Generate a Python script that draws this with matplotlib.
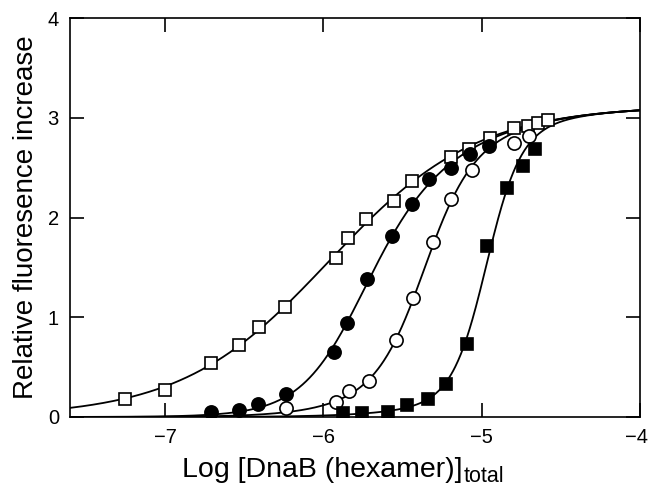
import numpy as np
import matplotlib
matplotlib.use("Agg")
import matplotlib.pyplot as plt
import matplotlib.transforms as mtransforms

plt.rcParams['font.family'] = ['Liberation Sans', 'DejaVu Sans']

# --- data ---
open_sq_x = [-7.253, -7.0, -6.708, -6.535, -6.408, -6.240, -5.923, -5.843, -5.729,
             -5.553, -5.441, -5.194, -5.078, -4.945, -4.793, -4.706, -4.643, -4.582]
open_sq_y = [0.18, 0.27, 0.54, 0.72, 0.90, 1.10, 1.59, 1.80, 1.99,
             2.17, 2.37, 2.61, 2.69, 2.80, 2.90, 2.92, 2.95, 2.98]

fill_ci_x = [-6.708, -6.535, -6.413, -6.233, -5.933, -5.853, -5.726, -5.564,
             -5.441, -5.331, -5.194, -5.072, -4.951]
fill_ci_y = [0.05, 0.07, 0.13, 0.23, 0.65, 0.94, 1.38, 1.82,
             2.14, 2.39, 2.50, 2.64, 2.72]

open_ci_x = [-6.233, -5.923, -5.838, -5.712, -5.539, -5.433, -5.310, -5.194,
             -5.063, -4.793, -4.702]
open_ci_y = [0.09, 0.15, 0.26, 0.36, 0.77, 1.19, 1.75, 2.19,
             2.48, 2.75, 2.82]

fill_sq_x = [-5.875, -5.754, -5.589, -5.472, -5.338, -5.226, -5.093, -4.968,
             -4.839, -4.740, -4.666]
fill_sq_y = [0.04, 0.04, 0.05, 0.12, 0.18, 0.33, 0.73, 1.71,
             2.30, 2.52, 2.69]

x_ticks = [-7, -6, -5, -4]
x_tick_labels = ['\u22127', '\u22126', '\u22125', '\u22124']
y_ticks = [0, 1, 2, 3, 4]
y_tick_labels = ['0', '1', '2', '3', '4']


def hill(xx, n, x0):
    t = 10 ** (n * (np.asarray(xx) - x0))
    return t / (1 + t)


def switch(xx, n, x0, c):
    u = np.asarray(xx) - x0
    t = c * 10 ** u + 10 ** (n * u)
    return t / (1 + t)


def fit_envelope(x, y):
    """Hill fit of the broad (open-square) curve; ymax solved in closed form."""
    x = np.asarray(x); y = np.asarray(y)
    ns = np.arange(0.5, 2.01, 0.01)
    x0s = np.arange(-7.0, -5.0, 0.005)
    N, X0 = np.meshgrid(ns, x0s, indexing='ij')
    f = hill(x[None, None, :], N[..., None], X0[..., None])
    ymax = (f * y).sum(-1) / (f * f).sum(-1)
    err = ((ymax[..., None] * f - y) ** 2).sum(-1)
    i, j = np.unravel_index(np.argmin(err), err.shape)
    return ns[i], x0s[j], ymax[i, j]


def fit_switch(x, y, env):
    """Fit a switch (non-cooperative + cooperative term) that multiplies the envelope."""
    x = np.asarray(x); y = np.asarray(y)
    e = env(x)
    w = 1.0 / (y + 0.6)
    ns = np.arange(1.0, 5.01, 0.05)
    x0s = np.arange(-6.5, -4.5, 0.01)
    cs = np.arange(0.0, 0.301, 0.015)
    N, X0, C = np.meshgrid(ns, x0s, cs, indexing='ij')
    f = switch(x[None, None, None, :], N[..., None], X0[..., None], C[..., None]) * e
    err = (w * (f - y) ** 2).sum(-1)
    i, j, k = np.unravel_index(np.argmin(err), err.shape)
    return ns[i], x0s[j], cs[k]


n0, x00, ym = fit_envelope(open_sq_x, open_sq_y)
envelope = lambda xx: ym * hill(xx, n0, x00)

fig = plt.figure(figsize=(6.5, 4.9), dpi=100)
ax = fig.add_axes([0.1077, 0.149, 0.877, 0.814])

xx = np.linspace(-7.6, -4.0, 800)
ax.plot(xx, envelope(xx), color='black', lw=1.3, zorder=2)
for sx, sy in [(fill_ci_x, fill_ci_y), (open_ci_x, open_ci_y), (fill_sq_x, fill_sq_y)]:
    p = fit_switch(sx, sy, envelope)
    ax.plot(xx, envelope(xx) * switch(xx, *p), color='black', lw=1.3, zorder=2)

series = [
    (open_sq_x, open_sq_y, 's', 'white'),
    (fill_ci_x, fill_ci_y, 'o', 'black'),
    (open_ci_x, open_ci_y, 'o', 'white'),
    (fill_sq_x, fill_sq_y, 's', 'black'),
]
for sx, sy, m, fc in series:
    ax.plot(sx, sy, linestyle='none', marker=m, markersize=9 if m == 's' else 9.5,
            markerfacecolor=fc, markeredgecolor='black', markeredgewidth=1.2, zorder=3)

ax.set_xlim(-7.6, -4.0)
ax.set_ylim(0, 4)
ax.set_xticks(x_ticks)
ax.set_xticklabels(x_tick_labels)
ax.set_yticks(y_ticks)
ax.set_yticklabels(y_tick_labels)
ax.tick_params(direction='in', length=10, width=1.2, labelsize=14.5,
               top=True, right=True, pad=8)
lab = ax.get_xticklabels()[-1]
lab.set_transform(lab.get_transform() + mtransforms.ScaledTranslation(-4 / 100, 0, fig.dpi_scale_trans))
for s in ax.spines.values():
    s.set_linewidth(1.2)

main = fig.text(322 / 650, 1 - 477 / 490, 'Log [DnaB (hexamer)]', fontsize=20.5,
                ha='center', va='baseline')
ax.annotate('total', xy=(1, 0), xycoords=main, xytext=(1, 0.5),
            textcoords='offset points', fontsize=15.5, ha='left', va='baseline')
ax.set_ylabel('Relative fluoresence increase', fontsize=20, labelpad=6)

fig.savefig('out.png', dpi=100)
